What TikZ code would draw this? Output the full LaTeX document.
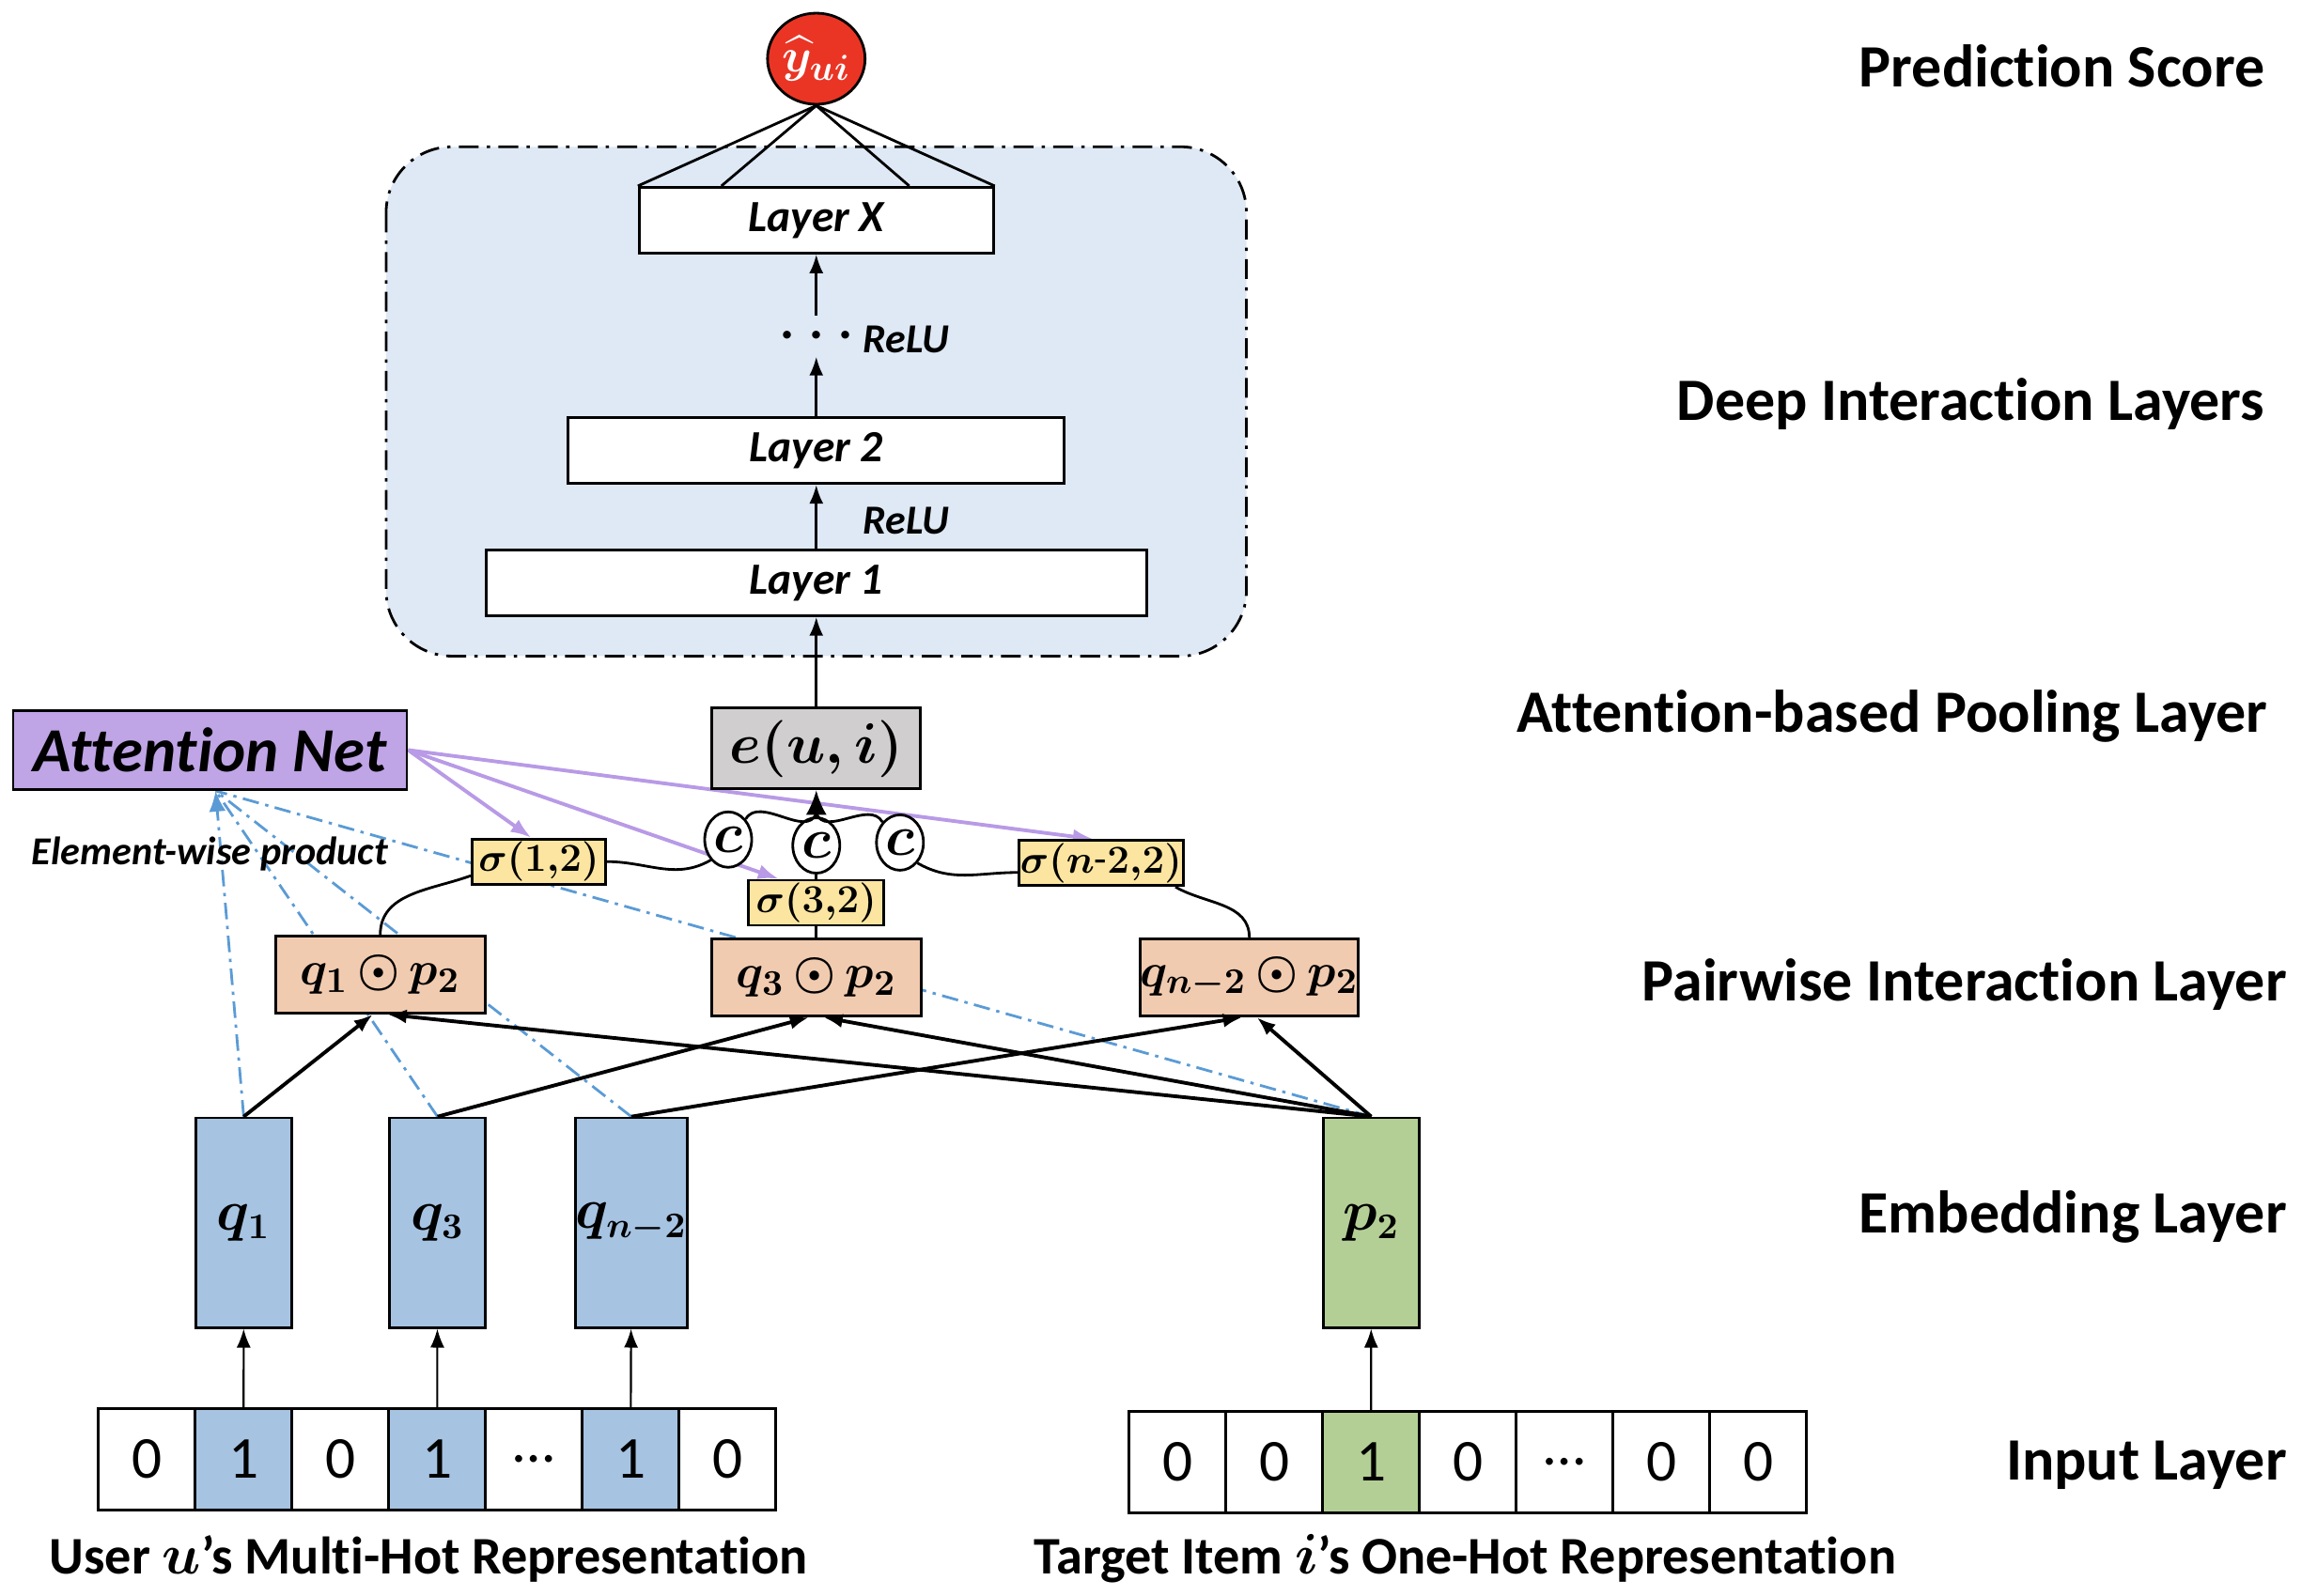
\documentclass[tikz,border=0pt]{standalone}
\usepackage{amsmath}
\usepackage{amssymb}
\usepackage{fontspec}
\setmainfont[Ligatures=NoCommon]{Carlito}
\usetikzlibrary{arrows, arrows.meta, shapes, positioning}

\definecolor{embblue}{RGB}{166,195,226}
\definecolor{embgreen}{RGB}{179,207,150}
\definecolor{pairpeach}{RGB}{241,203,176}
\definecolor{sigyellow}{RGB}{251,229,160}
\definecolor{euigray}{RGB}{208,206,206}
\definecolor{attpurple}{RGB}{191,164,230}
\definecolor{attline}{RGB}{184,154,230}
\definecolor{predred}{RGB}{234,53,37}
\definecolor{deepbg}{RGB}{222,233,245}
\definecolor{ewblue}{RGB}{91,155,213}

\pgfdeclarelayer{background}
\pgfsetlayers{background,main}

\begin{document}
\begin{tikzpicture}[x=0.15625mm, y=-0.15625mm,
    box/.style={draw, thick},
    arr/.style={-{Latex[length=2mm, width=1.5mm]}},
    layer/.style={box, fill=white, minimum height=7mm, font=\fontsize{13.5}{15}\selectfont\bfseries\itshape},
    relu/.style={font=\fontsize{12.5}{14}\selectfont\bfseries\itshape},
    cnode/.style={ellipse, draw, thick, fill=white, inner sep=0pt, minimum width=5mm, minimum height=5.9mm, font=\fontsize{18}{18}\selectfont},
    sig/.style={box, fill=sigyellow, minimum height=4.8mm, inner sep=0.5pt, font=\fontsize{12.5}{13}\selectfont},
    pair/.style={box, fill=pairpeach, minimum width=22.3mm, minimum height=8.2mm, inner xsep=0pt, font=\fontsize{15}{17}\selectfont},
    emb/.style={box, minimum width=10.2mm, minimum height=22.3mm, inner xsep=0pt, font=\fontsize{16}{18}\selectfont},
    cell/.style={draw, thick, minimum width=10.3mm, minimum height=10.8mm, outer sep=0pt, inner sep=0pt, font=\fontsize{18}{20}\selectfont},
    lbl/.style={anchor=east, inner sep=0pt, font=\fontsize{18.2}{20}\selectfont\bfseries},
    ewline/.style={ewblue, line width=0.8pt, dash pattern=on 5pt off 2pt on 1pt off 2pt},
    attarrow/.style={-{Latex[length=2.2mm, width=1.6mm]}, attline, line width=1.1pt}]
    \useasboundingbox (0,0) rectangle (1568,1087);

    % prediction and deep layers
    \node[ellipse, draw, thick, fill=predred, text=white, inner sep=0pt, minimum width=9.4mm, minimum height=9.7mm, font=\fontsize{15}{17}\selectfont] (yhat) at (556,40) {$\boldsymbol{\widehat{y}_{ui}}$};
    \node[layer, minimum width=37.7mm] (lx) at (556,150) {Layer X};
    \node[layer, minimum width=52.8mm] (l2) at (556,307) {Layer 2};
    \node[layer, minimum width=70.3mm] (l1) at (556,397) {Layer 1};
    \node[font=\fontsize{16}{16}\selectfont\bfseries] (dots) at (556,228) {.\hspace{1.6mm}.\hspace{1.6mm}.};
    \node[relu] (relu2) at (617,231) {ReLU};
    \node[relu] (relu1) at (617,355) {ReLU};
    \coordinate (dlo) at (556,243);
    \coordinate (dhi) at (556,215);

    % pooling and attention
    \node[box, fill=euigray, minimum width=22.2mm, minimum height=8.6mm, font=\fontsize{18}{20}\selectfont] (eui) at (556,510) {$\boldsymbol{e(u{,}\,i)}$};
    \node[box, fill=attpurple, minimum width=41.9mm, minimum height=8.4mm, font=\fontsize{19}{22}\selectfont\bfseries\itshape] (att) at (143,511) {Attention Net};
    \node[font=\fontsize{12}{14}\selectfont\bfseries\itshape] (ewp) at (143,582) {Element-wise product};
    \coordinate (merge) at (556,554);
    \node[cnode] (c1) at (496,572) {$\boldsymbol{c}$};
    \node[cnode] (c2) at (556,576) {$\boldsymbol{c}$};
    \node[cnode] (c3) at (613,574) {$\boldsymbol{c}$};
    \node[sig, minimum width=14.2mm] (s12) at (367,587) {$\boldsymbol{\sigma(1{,}2)}$};
    \node[sig, minimum width=14.4mm] (s32) at (556,615) {$\boldsymbol{\sigma(3{,}2)}$};
    \node[sig, minimum width=17.5mm] (sn2) at (750,588) {$\boldsymbol{\sigma(n\text{-}2{,}2)}$};

    % pairwise interactions
    \node[pair] (qp1) at (259,664) {$\boldsymbol{q_1\,{\odot}\,p_2}$};
    \node[pair] (qp3) at (556,666) {$\boldsymbol{q_3\,{\odot}\,p_2}$};
    \node[pair] (qpn) at (851,666) {$\boldsymbol{q_{n-2}\,{\odot}\,p_2}$};

    % embeddings
    \node[emb, fill=embblue] (q1) at (166,833) {$\boldsymbol{q_1}$};
    \node[emb, fill=embblue] (q3) at (298,833) {$\boldsymbol{q_3}$};
    \node[emb, fill=embblue] (qn2) at (430,833) {$\boldsymbol{q_{n-2}}$};
    \node[emb, fill=embgreen] (p2) at (934,833) {$\boldsymbol{p_2}$};

    % input cells
    \node[cell] (u1) at (100,994) {0};
    \node[cell, fill=embblue, right=0pt of u1] (u2) {1};
    \node[cell, right=0pt of u2] (u3) {0};
    \node[cell, fill=embblue, right=0pt of u3] (u4) {1};
    \node[cell, right=0pt of u4] (u5) {…};
    \node[cell, fill=embblue, right=0pt of u5] (u6) {1};
    \node[cell, right=0pt of u6] (u7) {0};

    \node[cell] (v1) at (802,996) {0};
    \node[cell, right=0pt of v1] (v2) {0};
    \node[cell, fill=embgreen, right=0pt of v2] (v3) {1};
    \node[cell, right=0pt of v3] (v4) {0};
    \node[cell, right=0pt of v4] (v5) {…};
    \node[cell, right=0pt of v5] (v6) {0};
    \node[cell, right=0pt of v6] (v7) {0};

    \node[font=\fontsize{16}{18}\selectfont\bfseries] (ulbl) at (292,1062) {User $\boldsymbol{u}$’s Multi-Hot Representation};
    \node[font=\fontsize{16}{18}\selectfont\bfseries] (ilbl) at (998,1062) {Target Item $\boldsymbol{i}$’s One-Hot Representation};

    % layer names
    \node[lbl] (lpred) at (1543,45) {Prediction Score};
    \node[lbl] (ldeep) at (1543,275) {Deep Interaction Layers};
    \node[lbl] (lpool) at (1545,488) {Attention-based Pooling Layer};
    \node[lbl] (lpair) at (1558,671) {Pairwise Interaction Layer};
    \node[lbl] (lemb) at (1558,829) {Embedding Layer};
    \node[lbl] (linp) at (1558,998) {Input Layer};

    % edges
    \draw[thick] (yhat.south) -- (lx.north west);
    \draw[thick] (yhat.south) -- ([xshift=-10.1mm]lx.north);
    \draw[thick] (yhat.south) -- ([xshift=9.9mm]lx.north);
    \draw[thick] (yhat.south) -- (lx.north east);
    \draw[arr, thick] (dhi) -- (lx);
    \draw[arr, thick] (l2) -- (dlo);
    \draw[arr, thick] (l1) -- (l2);
    \draw[arr, thick] (eui) -- (l1);
    \draw[-{Latex[length=2.6mm, width=2.2mm]}, thick] (merge) -- (eui);
    \draw[thick] (c1.north east) to[out=60, in=-110] (merge);
    \draw[thick] (c2) -- (merge);
    \draw[thick] (c3.north west) to[out=120, in=-70] (merge);
    \draw[thick] (s12.east) to[out=0, in=-150] (c1.south west);
    \draw[thick] (c3.south east) to[out=-30, in=180] ([yshift=-1mm]sn2.west);
    \draw[thick] (s32) -- (c2);
    \draw[thick] (qp1.north) to[out=90, in=200] ([yshift=-1.5mm]s12.west);
    \draw[thick] (qp3) -- (s32);
    \draw[thick] (qpn.north) to[out=90, in=-30] ([xshift=-1mm]sn2.south east);

    \draw[arr, line width=1.1pt] (q1.north) -- ([xshift=-0.8mm]qp1.south);
    \draw[arr, line width=1.1pt] (q3.north) -- ([xshift=-0.8mm]qp3.south);
    \draw[arr, line width=1.1pt] (qn2.north) -- ([xshift=-0.8mm]qpn.south);
    \draw[arr, line width=1.1pt] (p2.north) -- ([xshift=0.8mm]qp1.south);
    \draw[arr, line width=1.1pt] (p2.north) -- ([xshift=0.8mm]qp3.south);
    \draw[arr, line width=1.1pt] (p2.north) -- ([xshift=0.8mm]qpn.south);

    \draw[arr, semithick] (u2) -- (q1);
    \draw[arr, semithick] (u4) -- (q3);
    \draw[arr, semithick] (u6) -- (qn2);
    \draw[arr, semithick] (v3) -- (p2);

    \begin{pgfonlayer}{background}
        \draw[thick, fill=deepbg, rounded corners=7mm, dash pattern=on 6pt off 2.5pt on 1pt off 2.5pt] (263,100) rectangle (849,447);
        \draw[ewline, -{Latex[length=2.2mm, width=1.8mm]}] (q1.north) -- ([xshift=0.6mm]att.south);
        \draw[ewline] (q3.north) -- ([xshift=0.6mm]att.south);
        \draw[ewline] (qn2.north) -- ([xshift=0.6mm]att.south);
        \draw[ewline] (p2.north) -- ([xshift=0.6mm]att.south);
        \draw[attarrow] (att.east) -- ([xshift=-0.8mm]s12.north);
        \draw[attarrow] (att.east) -- ([xshift=-4mm]s32.north);
        \draw[attarrow] (att.east) -- ([xshift=-0.8mm]sn2.north);
    \end{pgfonlayer}
\end{tikzpicture}
\end{document}
